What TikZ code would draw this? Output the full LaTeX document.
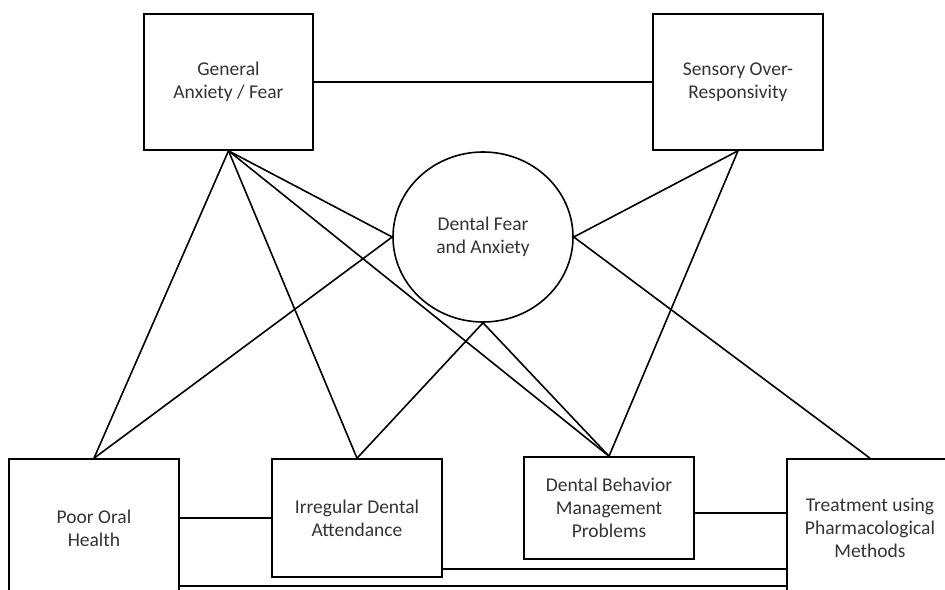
\documentclass[tikz,border=0pt]{standalone}
\usepackage{fontspec}
\setmainfont{Carlito}
\usetikzlibrary{shapes.geometric}
\begin{document}
\begin{tikzpicture}[x=1pt,y=-1pt,
  boxnode/.style={draw, line width=1.6pt, rectangle, inner sep=0pt, align=center,
    font=\fontsize{19.5}{23}\selectfont, text=black!80},
  circnode/.style={draw, line width=1.6pt, ellipse, inner sep=0pt, align=center,
    minimum width=180pt, minimum height=170pt, font=\fontsize{19.5}{23}\selectfont, text=black!80},
  link/.style={draw, line width=1.6pt}]
\useasboundingbox (0,0) rectangle (945,589);
\clip (0,0) rectangle (945,589);
\node[boxnode, minimum width=169pt, minimum height=136pt] (gen) at (228.5,82) {General\\Anxiety / Fear};
\node[boxnode, minimum width=170pt, minimum height=136pt] (sens) at (738,82) {Sensory Over-\\Responsivity};
\node[circnode] (dfa) at (483,237) {Dental Fear\\and Anxiety};
\node[boxnode, minimum width=170pt, minimum height=138pt] (poor) at (94,528) {Poor Oral\\Health};
\node[boxnode, minimum width=170pt, minimum height=118pt] (irr) at (357,518) {Irregular Dental\\Attendance};
\node[boxnode, minimum width=170pt, minimum height=102pt] (dbmp) at (609,508) {Dental Behavior\\Management\\Problems};
\node[boxnode, minimum width=166pt, minimum height=138pt] (treat) at (870,528) {Treatment using\\Pharmacological\\Methods};
% top links
\path[link] (gen.east) -- (sens.west);
\path[link] (gen.south) -- (poor.north);
\path[link] (gen.south) -- (irr.north);
\path[link] (gen.south) -- (dfa.west);
\path[link] (gen.south) -- (dbmp.north);
\path[link] (dfa.west) -- (poor.north);
\path[link] (dfa.south) -- (irr.north);
\path[link] (dfa.south) -- (dbmp.north);
\path[link] (dfa.east) -- (sens.south);
\path[link] (dfa.east) -- (treat.north);
\path[link] (sens.south) -- (dbmp.north);
% bottom links
\path[link] (irr.west -| poor.east) -- (irr.west);
\path[link] ([yshift=-5pt]dbmp.east) -- ([yshift=-5pt]dbmp.east -| treat.west);
\path[link] ([yshift=9pt]irr.south east) -- ([yshift=9pt]irr.south east -| treat.west);
\path[link] ([yshift=-58pt]poor.east) -- ([yshift=-58pt]poor.east -| treat.west);
\end{tikzpicture}
\end{document}
